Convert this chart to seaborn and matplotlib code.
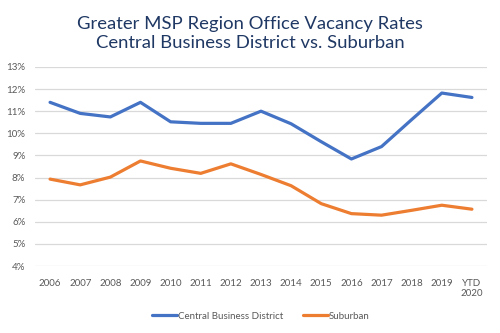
import matplotlib
matplotlib.use("Agg")
import matplotlib.pyplot as plt
import seaborn as sns
import pandas as pd
from matplotlib.ticker import FuncFormatter

categories = ["2006", "2007", "2008", "2009", "2010", "2011", "2012", "2013",
              "2014", "2015", "2016", "2017", "2018", "2019", "YTD\n2020"]
cbd = [11.40, 10.90, 10.74, 11.40, 10.52, 10.45, 10.45, 11.00,
       10.43, 9.62, 8.84, 9.40, 10.62, 11.82, 11.62]
suburban = [7.93, 7.67, 8.02, 8.75, 8.42, 8.19, 8.62, 8.14,
            7.63, 6.82, 6.37, 6.30, 6.52, 6.75, 6.57]
series_names = ["Central Business District", "Suburban"]

sns.set_theme(style="white")
plt.rcParams["font.family"] = ["Lato", "DejaVu Sans"]

df = pd.DataFrame({
    "idx": list(range(len(categories))) * 2,
    "value": cbd + suburban,
    "series": [series_names[0]] * len(cbd) + [series_names[1]] * len(suburban),
})

fig = plt.figure(figsize=(5, 3.33), dpi=100)
ax = fig.add_axes([0.07, 0.201, 0.904, 0.598])

sns.lineplot(data=df, x="idx", y="value", hue="series",
             palette=["#4472C4", "#ED7D31"], linewidth=2.3, ax=ax,
             legend=True)

ax.set_xlim(-0.5, len(categories) - 0.5)
ax.set_ylim(4, 13)
ax.set_yticks(range(4, 14))
ax.yaxis.set_major_formatter(FuncFormatter(lambda v, p: f"{int(v)}%"))
ax.set_xticks(range(len(categories)))
ax.set_xticklabels(categories)
ax.tick_params(axis="both", labelsize=7, colors="#595959", length=0)
ax.tick_params(axis="x", pad=9)
ax.tick_params(axis="y", pad=7)
ax.grid(axis="y", color="#D9D9D9", linewidth=0.9)
ax.set_axisbelow(True)
for s in ax.spines.values():
    s.set_visible(False)
ax.set_xlabel("")
ax.set_ylabel("")

leg = ax.legend(loc="upper center", bbox_to_anchor=(0.5, -0.185), ncol=2,
                frameon=False, fontsize=7, handlelength=2.6, handletextpad=0.1,
                columnspacing=2.0)
for t in leg.get_texts():
    t.set_color("#595959")

fig.text(0.5, 0.9, "Greater MSP Region Office Vacancy Rates\nCentral Business District vs. Suburban",
         ha="center", va="center", fontsize=13.3, color="#1F3864", linespacing=1.2)

fig.savefig("out.png", dpi=100)
